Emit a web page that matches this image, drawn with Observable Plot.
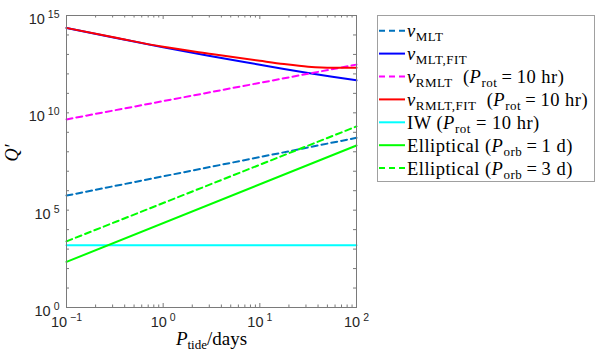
<!DOCTYPE html>
<html><head><meta charset="utf-8">
<script src="https://cdn.jsdelivr.net/npm/d3@7"></script>
<script src="https://cdn.jsdelivr.net/npm/@observablehq/plot@0.6"></script>
<style>html,body{margin:0;padding:0;background:#fff} svg{display:block}</style>
</head><body><div id="chart"></div>
<script>
// ---- data ----
const seriesNames = ["nuMLT", "nuMLTfit", "nuRMLT", "nuRMLTfit", "IW", "Ell1", "Ell3"];
const legendLabels = [
  "*ν*_{MLT}",
  "*ν*_{MLT,FIT}",
  "*ν*_{RMLT}  (*P*_{rot}\u2009=\u200910 hr)",
  "*ν*_{RMLT,FIT}  (*P*_{rot}\u2009=\u200910 hr)",
  "IW (*P*_{rot} = 10 hr)",
  "Elliptical (*P*_{orb}\u2009=\u20091 d)",
  "Elliptical (*P*_{orb}\u2009=\u20093 d)"
];
const colors = ["#0072BD", "#0000FF", "#FF00FF", "#FF0000", "#00FFFF", "#00FF00", "#00FF00"];
const dashed = [true, false, true, false, false, false, true];

const periodEnds = [0.1, 100];
const periodCurve = [0.1, 0.316, 1, 3.16, 10, 17.8, 31.6, 56.2, 100];

const qMLT       = [5.6e5, 5.2e8];
const qMLTfit    = [2.29e14, 7.2e13, 2.3e13, 8.1e12, 2.95e12, 1.78e12, 1.1e12, 7.1e11, 4.7e11];
const qRMLT      = [4.6e9, 3.0e12];
const qRMLTfit   = [2.29e14, 7.4e13, 2.45e13, 1.05e13, 4.7e12, 3.2e12, 2.35e12, 2.05e12, 2.1e12];
const qIW        = [1.6e3, 1.6e3];
const qEll1      = [2.2e2, 2.1e8];
const qEll3      = [2.5e3, 2.0e9];

const xMajorTicks = [0.1, 1, 10, 100];
const yLabelTicks = [1e0, 1e5, 1e10, 1e15];
const xLabel = "*P*_{tide}/days";
const yLabel = "Q′";

// ---- build table ----
const seriesValues = [qMLT, qMLTfit, qRMLT, qRMLTfit, qIW, qEll1, qEll3];
const rows = [];
seriesValues.forEach((vals, i) => {
  const xs = vals.length === periodCurve.length ? periodCurve : periodEnds;
  vals.forEach((q, j) => rows.push({series: seriesNames[i], idx: i, x: xs[j], q}));
});

const yMajorTicks = d3.range(0, 16).map(e => Math.pow(10, e));
const xMinorTicks = [];
for (let e = -1; e < 2; e++) for (let m = 2; m <= 9; m++) xMinorTicks.push(m * Math.pow(10, e));

const W = 598, H = 355, mL = 66, mR = 242, mT = 15, mB = 48;
const pw = W - mL - mR, ph = H - mT - mB;
const axisColor = "#7a7a7a";
const labelColor = "#262626";

const lineMarks = seriesNames.map((s, i) => Plot.line(rows.filter(r => r.idx === i), {
  x: "x", y: "q", stroke: colors[i], strokeWidth: 2,
  strokeDasharray: dashed[i] ? "6,4" : null, curve: "monotone-x"
}));

const chart = Plot.plot({
  width: W, height: H,
  marginLeft: mL, marginRight: mR, marginTop: mT, marginBottom: mB,
  style: {background: "#fff", fontFamily: "'Liberation Sans', Arial, sans-serif", fontSize: "14.5px", color: labelColor},
  x: {type: "log", domain: [0.1, 100], axis: null},
  y: {type: "log", domain: [1, 1e15], axis: null},
  marks: [
    ...lineMarks,
    // ticks (inside)
    Plot.ruleX(xMajorTicks, {x: d => d, insetTop: ph - 4, stroke: axisColor}),
    Plot.ruleX(xMajorTicks, {x: d => d, insetBottom: ph - 4, stroke: axisColor}),
    Plot.ruleX(xMinorTicks, {x: d => d, insetTop: ph - 2.5, stroke: axisColor}),
    Plot.ruleX(xMinorTicks, {x: d => d, insetBottom: ph - 2.5, stroke: axisColor}),
    Plot.ruleY(yMajorTicks, {y: d => d, insetRight: pw - 3, stroke: axisColor}),
    Plot.ruleY(yMajorTicks, {y: d => d, insetLeft: pw - 3, stroke: axisColor}),
    Plot.frame({stroke: axisColor}),
    // tick labels
    Plot.text(xMajorTicks, {x: d => d, frameAnchor: "bottom", dy: 19, fill: labelColor,
      text: d => "10^{" + Math.round(Math.log10(d)) + "}"}),
    Plot.text(yLabelTicks, {y: d => d, frameAnchor: "left", dx: -7, dy: 4, textAnchor: "end", fill: labelColor,
      text: d => "10^{" + Math.round(Math.log10(d)) + "}"}),
    // axis titles
    Plot.text([xLabel], {frameAnchor: "bottom", dy: 37, text: d => d, fill: "#000",
      fontFamily: "'Liberation Serif', serif", fontSize: 19}),
    Plot.text([yLabel], {frameAnchor: "left", dx: -54, rotate: -90, text: d => d, fill: "#000",
      fontFamily: "'Liberation Serif', serif", fontSize: 18, fontStyle: "italic"})
  ]
});
document.getElementById("chart").appendChild(chart);

// ---- rich text (sub/superscripts, italics) ----
function richText(el, markup, subSize, supShift, subShift, supGap) {
  el.textContent = "";
  const re = /\*([^*]+)\*|_\{([^}]+)\}|\^\{([^}]+)\}|([^*_^]+)/g;
  let m, offset = 0;
  while ((m = re.exec(markup))) {
    const t = document.createElementNS("http://www.w3.org/2000/svg", "tspan");
    let target = 0;
    if (m[1] !== undefined) { t.textContent = m[1]; t.setAttribute("font-style", "italic"); }
    else if (m[2] !== undefined) { t.textContent = m[2]; t.setAttribute("font-size", subSize); target = subShift; }
    else if (m[3] !== undefined) {
      t.textContent = m[3].replace("-", "\u2212"); t.setAttribute("font-size", subSize); target = -supShift;
      if (supGap) t.setAttribute("dx", supGap);
    }
    else { t.textContent = m[4]; }
    if (target !== offset) { t.setAttribute("dy", target - offset); offset = target; }
    el.appendChild(t);
  }
}
const svg = d3.select(chart);
svg.selectAll("text").each(function() {
  const s = this.textContent;
  if (s.includes("^{")) richText(this, s, "10.5px", 6, 0, 3);
  else if (s.includes("_{")) richText(this, s, "13px", 0, 4, 0);
});

// ---- legend ----
const lx = 377, ly = 15, lw = 217, lh = 166, rowH = 22.9, firstY = 30.7;
const lg = svg.append("g").attr("text-anchor", "start");
lg.append("rect").attr("x", lx + 0.5).attr("y", ly + 0.5).attr("width", lw).attr("height", lh)
  .attr("fill", "#fff").attr("stroke", "#a0a0a0");
legendLabels.forEach((lab, i) => {
  const y = firstY + i * rowH;
  lg.append("line").attr("x1", lx + 2).attr("x2", lx + 28).attr("y1", y).attr("y2", y)
    .attr("stroke", colors[i]).attr("stroke-width", 2)
    .attr("stroke-dasharray", dashed[i] ? "6,4" : null);
  const t = lg.append("text").attr("x", lx + 30).attr("y", y).attr("dy", "0.35em")
    .attr("fill", "#000").attr("font-family", "'Liberation Serif', serif").attr("font-size", 18.5)
    .attr("letter-spacing", 0.5)
    .style("white-space", "pre");
  richText(t.node(), lab, "13px", 0, 4, 0);
});
</script></body></html>
